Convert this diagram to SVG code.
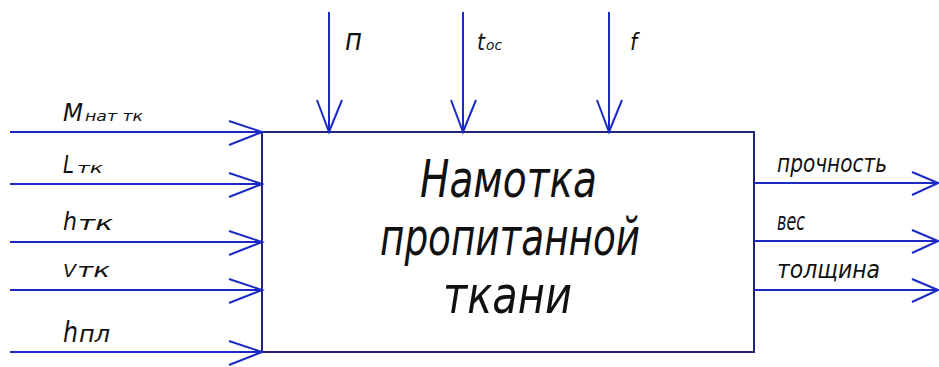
<svg xmlns="http://www.w3.org/2000/svg" width="939" height="367" viewBox="0 0 939 367">
<style>
.ln{stroke:#1b2ac4;stroke-width:2;fill:none}
.bx{stroke:#23237e;stroke-width:2;fill:#fff}
.lb{font-family:"DejaVu Sans Condensed","Liberation Sans Narrow","Liberation Sans",sans-serif;font-style:italic;fill:#111;font-stretch:condensed}
.main{font-size:52px}
.sm{font-size:24px}
</style>
<rect width="939" height="367" fill="#fff"/>
<g id="process">
<rect class="bx" x="262" y="132" width="492" height="220"/>
<text class="lb main" x="420" y="197" textLength="177" lengthAdjust="spacingAndGlyphs">Намотка</text>
<text class="lb main" x="380" y="255" textLength="260" lengthAdjust="spacingAndGlyphs">пропитанной</text>
<text class="lb main" x="443" y="313" textLength="129" lengthAdjust="spacingAndGlyphs">ткани</text>
</g>
<g id="connectors">
<path class="ln" d="M10 132H262M229 121L262 132L229 145"/>
<path class="ln" d="M10 184H262M229 173L262 184L229 197"/>
<path class="ln" d="M10 242H262M229 231L262 242L229 255"/>
<path class="ln" d="M10 290H262M229 279L262 290L229 303"/>
<path class="ln" d="M10 352H262M229 341L262 352L229 365"/>
<path class="ln" d="M329 12V132M317 100L329 132L342 100"/>
<path class="ln" d="M463 12V132M451 100L463 132L476 100"/>
<path class="ln" d="M609 12V132M597 100L609 132L622 100"/>
<path class="ln" d="M754 183H938M912 172L938 183L912 195"/>
<path class="ln" d="M754 241H938M912 230L938 241L912 253"/>
<path class="ln" d="M754 290H938M912 279L938 290L912 302"/>
</g>
<g id="labels">
<text class="lb" x="63" y="121" font-size="25" textLength="20" lengthAdjust="spacingAndGlyphs">M</text>
<text class="lb" x="85" y="121" font-size="14" textLength="58" lengthAdjust="spacingAndGlyphs">нат тк</text>
<text class="lb" x="63" y="173" font-size="25" textLength="11" lengthAdjust="spacingAndGlyphs">L</text>
<text class="lb" x="77" y="173" font-size="14" textLength="26" lengthAdjust="spacingAndGlyphs">тк</text>
<text class="lb" x="63" y="230" font-size="25" textLength="14" lengthAdjust="spacingAndGlyphs">h</text>
<text class="lb" x="78" y="230" font-size="20" textLength="35" lengthAdjust="spacingAndGlyphs">тк</text>
<text class="lb" x="63" y="277" font-size="17" textLength="13" lengthAdjust="spacingAndGlyphs">V</text>
<text class="lb" x="77" y="277" font-size="20" textLength="33" lengthAdjust="spacingAndGlyphs">тк</text>
<text class="lb" x="63" y="342" font-size="29" textLength="15" lengthAdjust="spacingAndGlyphs">h</text>
<text class="lb" x="79" y="342" font-size="23" textLength="31" lengthAdjust="spacingAndGlyphs">пл</text>
<text class="lb" x="345" y="50" font-size="30" textLength="17" lengthAdjust="spacingAndGlyphs">п</text>
<text class="lb" x="477" y="50" font-size="23" textLength="8" lengthAdjust="spacingAndGlyphs">t</text>
<text class="lb" x="486" y="50" font-size="14" textLength="16" lengthAdjust="spacingAndGlyphs">ос</text>
<text class="lb" x="630" y="50" font-size="23" font-style="normal">f</text>
<text class="lb sm" x="777" y="172" textLength="110" lengthAdjust="spacingAndGlyphs">прочность</text>
<text class="lb sm" x="777" y="230" textLength="28" lengthAdjust="spacingAndGlyphs">вес</text>
<text class="lb sm" x="777" y="278" textLength="103" lengthAdjust="spacingAndGlyphs">толщина</text>
</g>
</svg>
